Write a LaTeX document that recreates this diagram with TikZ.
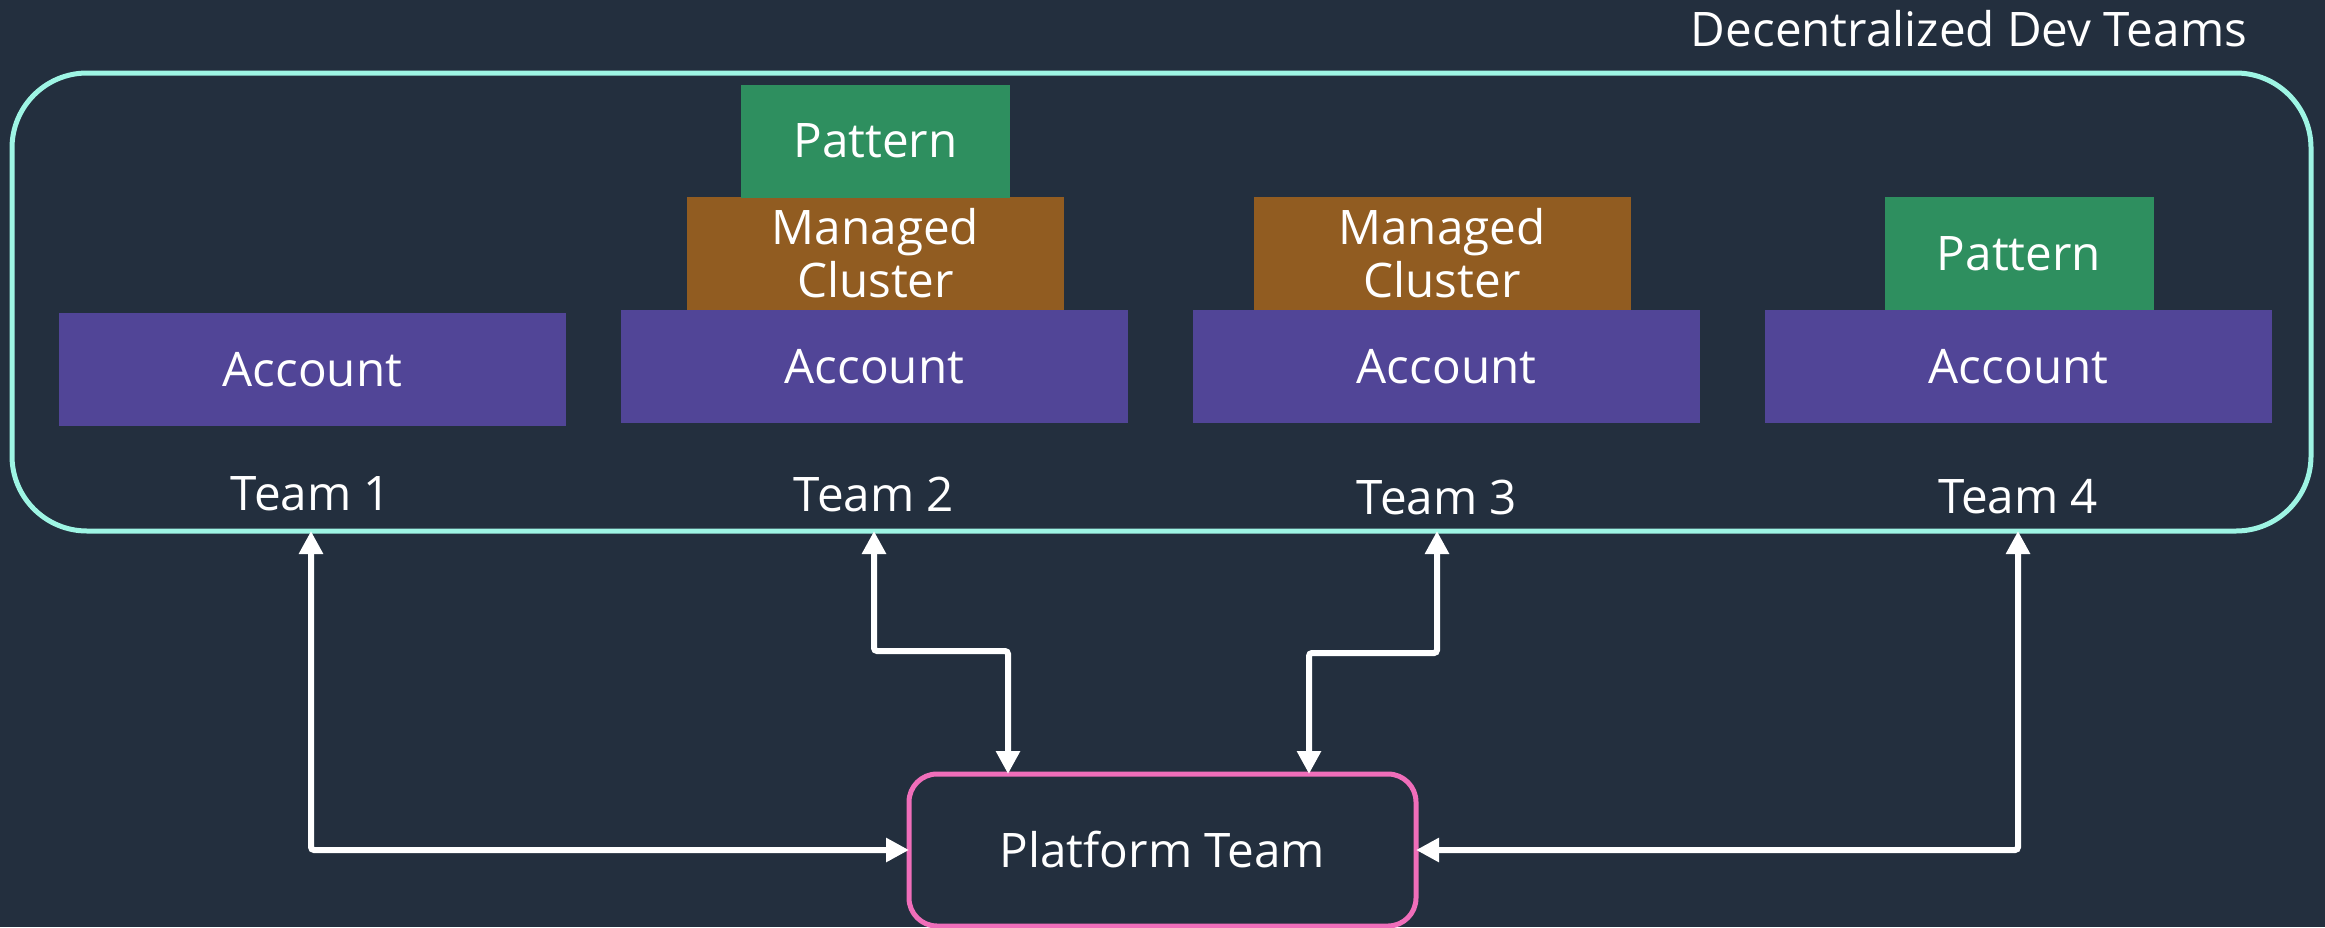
\documentclass[tikz,border=0pt]{standalone}
\usepackage{fontspec}
\setmainfont{Open Sans}
\usetikzlibrary{arrows.meta,calc}
\definecolor{bgcol}{HTML}{232F3E}
\definecolor{cyanline}{HTML}{9EF5E4}
\definecolor{acctcol}{HTML}{514597}
\definecolor{mclcol}{HTML}{915C21}
\definecolor{pattcol}{HTML}{2E8F5F}
\definecolor{pinkline}{HTML}{F06EBA}
\begin{document}
\begin{tikzpicture}[x=1pt,y=-1pt,
  every node/.style={text=white, inner sep=0pt, outer sep=0pt, align=center,
    font=\fontsize{47.6}{53}\selectfont},
  acct/.style={fill=acctcol, minimum width=507pt, minimum height=113pt},
  mcl/.style={fill=mclcol, minimum width=377pt, minimum height=113pt},
  patt/.style={fill=pattcol, minimum width=269pt, minimum height=113pt},
  biarr/.style={draw=white, line width=6pt, rounded corners=3pt,
    {Triangle[length=23pt,width=23pt]}-{Triangle[length=23pt,width=23pt]}}
]
\fill[bgcol] (0,0) rectangle (2325,927);
\useasboundingbox (0,0) rectangle (2325,927);

% outer group
\node[draw=cyanline, line width=5pt, rounded corners=75pt,
  minimum width=2299pt, minimum height=458pt] (outer) at (1161.5,302) {};
\node (title) at (1969,29) {Decentralized Dev Teams};

% team 1
\node[acct] (a1) at (312.5,369.5) {Account};
% team 2
\node[acct] (a2) at (874.5,366.5) {Account};
\node[mcl]  (m2) at (875.5,253.5) {Managed\\Cluster};
\node[patt] (p2) at (875.5,141) {Pattern};
% team 3
\node[mcl]  (m3) at (1442,253.5) {Managed\\Cluster};
\node[acct] (a3) at (1446.5,366.5) {Account};
% team 4
\node[patt] (p4) at (2019,253.5) {Pattern};
\node[acct] (a4) at (2018.5,366.5) {Account};

% team labels
\node (t1) at (311,494) {Team 1};
\node (t2) at (874,494) {Team 2};
\node (t3) at (1437,497) {Team 3};
\node (t4) at (2018,497) {Team 4};

% platform team
\node[draw=pinkline, line width=5pt, rounded corners=28pt,
  minimum width=507pt, minimum height=152pt] (plat) at (1162.5,850) {Platform Team};

% connectors
\draw[biarr] (t1 |- outer.south) |- (plat.west);
\draw[biarr] (t2 |- outer.south) -- ++(0,120) -| ([xshift=99pt]plat.north west);
\draw[biarr] (t3 |- outer.south) -- ++(0,122) -| ([xshift=-107pt]plat.north east);
\draw[biarr] (t4 |- outer.south) |- (plat.east);
\end{tikzpicture}
\end{document}
